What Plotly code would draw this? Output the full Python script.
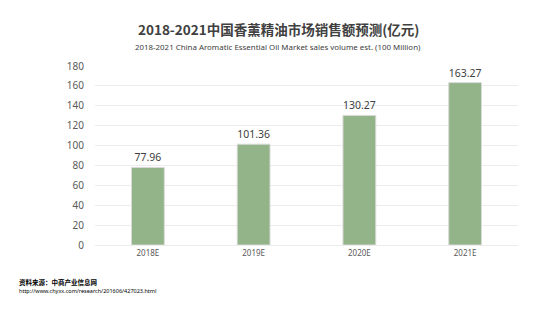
import plotly.graph_objects as go

categories = ["2018E", "2019E", "2020E", "2021E"]
values = [77.96, 101.36, 130.27, 163.27]
value_labels = ["77.96", "101.36", "130.27", "163.27"]
y_ticks = [0, 20, 40, 60, 80, 100, 120, 140, 160, 180]

title_text = "2018-2021中国香薰精油市场销售额预测(亿元)"
subtitle_text = "2018-2021 China Aromatic Essential Oil Market sales volume est. (100 Million)"
source_text = "资料来源：中商产业信息网"
url_text = "http://www.chyxx.com/research/201606/427023.html"

fig = go.Figure()
fig.add_trace(go.Bar(
    x=categories, y=values,
    marker=dict(color="#92b488", line=dict(color="#d9d9d9", width=1)),
    text=value_labels, textposition="outside",
    textfont=dict(size=10.5, color="#404040", family="Noto Sans, sans-serif"),
    cliponaxis=False,
))

fig.update_layout(
    width=554, height=327,
    margin=dict(l=95, r=36, t=66, b=82),
    paper_bgcolor="white", plot_bgcolor="white",
    bargap=0.69,
    showlegend=False,
    font=dict(family="Noto Sans, sans-serif", color="#595959"),
    xaxis=dict(
        showgrid=False, showline=True, linecolor="#ececec", linewidth=1,
        tickfont=dict(size=8, color="#595959"), ticks="", ticklen=0,
    ),
    yaxis=dict(
        range=[0, 180], tickvals=y_ticks, showgrid=True, gridcolor="#ececec",
        gridwidth=1, zeroline=False, showline=False,
        tickfont=dict(size=10, color="#595959"), ticks="", ticklabelstandoff=10,
    ),
    annotations=[
        dict(text="<b>" + title_text + "</b>", x=278, y=327 - 29, xref="paper", yref="paper",
             showarrow=False, font=dict(size=13.5, color="#404040", family="Noto Sans CJK SC"),
             xanchor="center", yanchor="middle"),
        dict(text=subtitle_text, x=278, y=327 - 47, showarrow=False,
             font=dict(size=7.9, color="#404040", family="Noto Sans, sans-serif"),
             xanchor="center", yanchor="middle"),
        dict(text="<b>" + source_text + "</b>", x=17, y=327 - 282, showarrow=False,
             font=dict(size=6.5, color="#000000", family="Noto Sans CJK SC"),
             xanchor="left", yanchor="middle"),
        dict(text=url_text, x=17, y=327 - 291, showarrow=False,
             font=dict(size=5.5, color="#000000", family="Noto Sans, sans-serif"),
             xanchor="left", yanchor="middle"),
    ],
)

# place annotations in pixel coords via paper mapping
pw = 554 - 95 - 36
ph = 327 - 66 - 82
for a in fig.layout.annotations:
    px, py = a.x, a.y
    a.x = (px - 95) / pw
    a.y = (py - 82) / ph
    a.xref = "paper"
    a.yref = "paper"

fig.write_html("out.html")
